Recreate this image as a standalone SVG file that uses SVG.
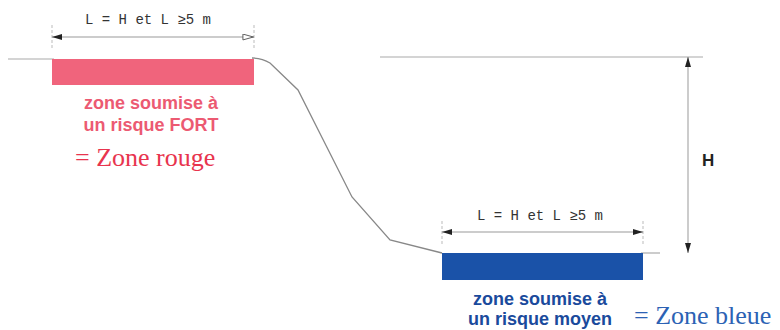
<svg xmlns="http://www.w3.org/2000/svg" width="780" height="330" viewBox="0 0 780 330">
<defs>
<marker id="af" viewBox="0 0 10 6" refX="10" refY="3" markerWidth="20" markerHeight="6" markerUnits="userSpaceOnUse" orient="auto-start-reverse"><path d="M0,0 L10,3 L0,6 Z" fill="#222"/></marker>
<marker id="ah" viewBox="0 0 10 6" refX="10" refY="3" markerWidth="18" markerHeight="7" markerUnits="userSpaceOnUse" orient="auto"><path d="M0.5,0.5 L9.5,3 L0.5,5.5 Z" fill="#fff" stroke="#555" stroke-width="0.8"/></marker>
<marker id="av" viewBox="0 0 10 6" refX="10" refY="3" markerWidth="14" markerHeight="6" markerUnits="userSpaceOnUse" orient="auto-start-reverse"><path d="M0,0 L10,3 L0,6 Z" fill="#222"/></marker>
</defs>
<style>
.gl{stroke:#aaa;stroke-width:1.2;fill:none}
.dim{stroke:#999;stroke-width:1;fill:none}
.tick{stroke:#bbb;stroke-width:1;stroke-dasharray:3,2}
.lbl{font-family:"Liberation Mono",monospace;font-size:14px;fill:#333;text-anchor:middle}
.zs{font-family:"Liberation Sans",Arial,sans-serif;font-weight:bold;font-size:18px;text-anchor:middle}
.zz{font-family:"Liberation Serif","Times New Roman",serif;font-size:26px}
</style>
<g id="ground">
<line class="gl" x1="8" y1="59" x2="54" y2="59"/>
<line class="gl" x1="380" y1="57" x2="703" y2="57"/>
<line class="gl" x1="641" y1="253" x2="660" y2="253"/>
<path d="M252,58 Q262,58 270,63 L298,90 L352,197 L390,240 L442,253" stroke="#888" stroke-width="1.3" fill="none"/>
</g>
<g id="zone-rouge">
<rect x="52" y="59" width="202" height="26" fill="#f0647c"/>
<text class="zs" x="151" y="109" fill="#ec5a72">zone soumise à</text>
<text class="zs" x="151" y="131" fill="#ec5a72">un risque FORT</text>
<text class="zz" x="75" y="166" fill="#e8344e">= Zone rouge</text>
</g>
<g id="zone-bleue">
<rect x="442" y="253" width="201" height="27" fill="#1a52a8"/>
<text class="zs" x="540" y="305" fill="#1a4a9c">zone soumise à</text>
<text class="zs" x="540" y="325" fill="#1a4a9c">un risque moyen</text>
<text class="zz" x="634" y="324" fill="#2c62b4">= Zone bleue</text>
</g>
<g id="connectors">
<line class="tick" x1="52" y1="25" x2="52" y2="50"/>
<line class="tick" x1="254" y1="25" x2="254" y2="50"/>
<line class="dim" x1="52" y1="37" x2="254" y2="37" marker-start="url(#af)" marker-end="url(#ah)"/>
<line class="tick" x1="442" y1="221" x2="442" y2="246"/>
<line class="tick" x1="643" y1="221" x2="643" y2="246"/>
<line class="dim" x1="442" y1="232" x2="643" y2="232" marker-start="url(#af)" marker-end="url(#af)"/>
<line class="dim" x1="688" y1="57" x2="688" y2="253" marker-start="url(#av)" marker-end="url(#av)"/>
</g>
<g id="labels">
<text class="lbl" x="148" y="24">L = H et L ≥5 m</text>
<text class="lbl" x="540" y="220">L = H et L ≥5 m</text>
<text x="702" y="166" font-family="Liberation Sans,Arial,sans-serif" font-weight="bold" font-size="17" fill="#222">H</text>
</g>
</svg>
